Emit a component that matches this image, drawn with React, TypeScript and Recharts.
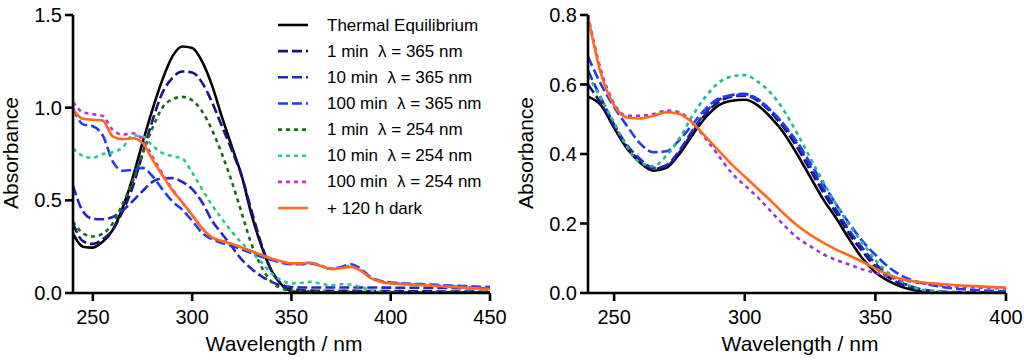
import React from 'react';
import { LineChart, Line, XAxis, YAxis, Legend } from 'recharts';

const FONT = '"Liberation Sans", Arial, Helvetica, sans-serif';

// ---------- Left panel data ----------
const LEFT_WAVELENGTH = [240, 245, 250, 255, 260, 265, 270, 275, 280, 285, 290, 295, 300, 305, 310, 315, 320, 325, 330, 335, 340, 345, 350, 355, 360, 365, 370, 375, 380, 385, 390, 395, 400, 405, 410, 415, 420, 425, 430, 435, 440, 445, 450];
const LEFT_THERMAL = [0.32, 0.25, 0.245, 0.277, 0.34, 0.46, 0.62, 0.81, 0.99, 1.15, 1.275, 1.33, 1.322, 1.25, 1.12, 0.95, 0.79, 0.63, 0.42, 0.25, 0.12, 0.045, 0.01, 0.003, 0.002, 0.002, 0.002, 0.002, 0.002, 0.002, 0.002, 0.002, 0.002, 0.002, 0.002, 0.002, 0.002, 0.002, 0.002, 0.002, 0.002, 0.002, 0.002];
const LEFT_1MIN_365 = [0.375, 0.28, 0.265, 0.29, 0.34, 0.44, 0.57, 0.75, 0.93, 1.08, 1.16, 1.195, 1.19, 1.135, 1.03, 0.9, 0.77, 0.63, 0.44, 0.26, 0.12, 0.05, 0.02, 0.015, 0.013, 0.012, 0.012, 0.012, 0.012, 0.011, 0.01, 0.01, 0.01, 0.01, 0.009, 0.009, 0.009, 0.008, 0.008, 0.008, 0.008, 0.007, 0.007];
const LEFT_10MIN_365 = [0.58, 0.44, 0.4, 0.398, 0.41, 0.445, 0.495, 0.55, 0.6, 0.618, 0.62, 0.6, 0.56, 0.49, 0.39, 0.32, 0.25, 0.18, 0.13, 0.09, 0.06, 0.04, 0.032, 0.03, 0.03, 0.03, 0.03, 0.03, 0.03, 0.03, 0.03, 0.029, 0.029, 0.028, 0.028, 0.028, 0.027, 0.027, 0.027, 0.026, 0.026, 0.025, 0.025];
const LEFT_100MIN_365 = [1.0, 0.91, 0.9, 0.85, 0.71, 0.66, 0.665, 0.675, 0.63, 0.56, 0.495, 0.45, 0.39, 0.325, 0.29, 0.27, 0.255, 0.235, 0.215, 0.195, 0.178, 0.163, 0.155, 0.155, 0.16, 0.145, 0.13, 0.14, 0.155, 0.13, 0.085, 0.065, 0.057, 0.053, 0.05, 0.048, 0.046, 0.043, 0.04, 0.038, 0.036, 0.034, 0.032];
const LEFT_1MIN_254 = [0.385, 0.322, 0.305, 0.32, 0.375, 0.48, 0.6, 0.75, 0.89, 1.0, 1.045, 1.058, 1.04, 0.98, 0.88, 0.75, 0.6, 0.43, 0.26, 0.14, 0.06, 0.025, 0.012, 0.01, 0.008, 0.008, 0.007, 0.007, 0.007, 0.006, 0.006, 0.005, 0.005, 0.004, 0.004, 0.004, 0.003, 0.003, 0.003, 0.003, 0.002, 0.002, 0.002];
const LEFT_10MIN_254 = [0.78, 0.74, 0.73, 0.75, 0.76, 0.785, 0.85, 0.845, 0.795, 0.755, 0.738, 0.725, 0.65, 0.56, 0.475, 0.4, 0.33, 0.27, 0.22, 0.165, 0.105, 0.07, 0.052, 0.055, 0.06, 0.05, 0.042, 0.048, 0.045, 0.032, 0.015, 0.005, 0.002, 0, 0, 0, 0, 0, 0, 0, 0, 0, 0];
const LEFT_100MIN_254 = [1.03, 0.975, 0.965, 0.955, 0.88, 0.855, 0.862, 0.83, 0.735, 0.645, 0.56, 0.49, 0.42, 0.35, 0.3, 0.28, 0.265, 0.245, 0.225, 0.205, 0.185, 0.17, 0.16, 0.16, 0.163, 0.147, 0.132, 0.137, 0.145, 0.122, 0.082, 0.062, 0.054, 0.05, 0.047, 0.045, 0.042, 0.039, 0.036, 0.033, 0.03, 0.027, 0.024];
const LEFT_DARK = [0.99, 0.94, 0.935, 0.93, 0.845, 0.83, 0.835, 0.81, 0.72, 0.635, 0.555, 0.49, 0.42, 0.35, 0.3, 0.28, 0.265, 0.245, 0.225, 0.205, 0.185, 0.17, 0.16, 0.16, 0.163, 0.145, 0.13, 0.135, 0.14, 0.12, 0.08, 0.06, 0.052, 0.048, 0.045, 0.043, 0.04, 0.036, 0.033, 0.03, 0.027, 0.024, 0.02];
const LEFT_XTICKS = [250, 300, 350, 400, 450];
const LEFT_YTICKS = [0, 0.5, 1.0, 1.5];

// ---------- Right panel data ----------
const RIGHT_WAVELENGTH = [240, 245, 250, 255, 260, 265, 270, 275, 280, 285, 290, 295, 300, 305, 310, 315, 320, 325, 330, 335, 340, 345, 350, 355, 360, 365, 370, 375, 380, 385, 390, 395, 400];
const RIGHT_THERMAL = [0.565, 0.54, 0.475, 0.415, 0.375, 0.352, 0.36, 0.4, 0.455, 0.505, 0.54, 0.553, 0.556, 0.54, 0.505, 0.46, 0.4, 0.335, 0.27, 0.215, 0.155, 0.1, 0.06, 0.035, 0.018, 0.008, 0.002, 0, 0, 0, 0, 0, 0];
const RIGHT_1MIN_365 = [0.6, 0.545, 0.48, 0.42, 0.38, 0.357, 0.365, 0.405, 0.462, 0.515, 0.55, 0.565, 0.568, 0.553, 0.52, 0.475, 0.42, 0.355, 0.29, 0.23, 0.17, 0.12, 0.075, 0.045, 0.025, 0.012, 0.005, 0.002, 0, 0, 0, 0, 0];
const RIGHT_10MIN_365 = [0.64, 0.56, 0.485, 0.425, 0.385, 0.36, 0.368, 0.41, 0.468, 0.52, 0.555, 0.57, 0.573, 0.558, 0.525, 0.483, 0.43, 0.365, 0.3, 0.24, 0.18, 0.13, 0.085, 0.052, 0.03, 0.016, 0.008, 0.004, 0.003, 0.002, 0.002, 0.002, 0.002];
const RIGHT_100MIN_365 = [0.68, 0.6, 0.535, 0.48, 0.43, 0.405, 0.408, 0.44, 0.485, 0.53, 0.56, 0.568, 0.571, 0.557, 0.525, 0.485, 0.435, 0.375, 0.315, 0.255, 0.2, 0.15, 0.11, 0.075, 0.05, 0.035, 0.025, 0.018, 0.013, 0.01, 0.008, 0.006, 0.005];
const RIGHT_10MIN_254 = [0.625, 0.56, 0.49, 0.42, 0.375, 0.365, 0.395, 0.445, 0.51, 0.565, 0.605, 0.623, 0.627, 0.608, 0.575, 0.525, 0.46, 0.39, 0.32, 0.255, 0.195, 0.145, 0.095, 0.058, 0.033, 0.016, 0.006, 0.002, 0, 0, 0, 0, 0];
const RIGHT_100MIN_254 = [0.8, 0.64, 0.545, 0.51, 0.51, 0.515, 0.525, 0.52, 0.49, 0.445, 0.395, 0.345, 0.31, 0.275, 0.235, 0.195, 0.16, 0.135, 0.112, 0.095, 0.082, 0.068, 0.058, 0.048, 0.038, 0.031, 0.026, 0.022, 0.019, 0.017, 0.015, 0.014, 0.013];
const RIGHT_DARK = [0.795, 0.63, 0.54, 0.505, 0.502, 0.51, 0.52, 0.515, 0.49, 0.45, 0.41, 0.37, 0.335, 0.3, 0.265, 0.228, 0.195, 0.168, 0.145, 0.125, 0.108, 0.09, 0.07, 0.053, 0.04, 0.033, 0.029, 0.026, 0.023, 0.021, 0.019, 0.017, 0.016];
const RIGHT_XTICKS = [250, 300, 350, 400];
const RIGHT_YTICKS = [0, 0.2, 0.4, 0.6, 0.8];

// ---------- Styles ----------
const DASH = '10 4';
const DOT = '4 4';

type Series = { key: string; name: string; color: string; dash?: string; values: number[] };

const LEFT_SERIES: Series[] = [
  { key: 'thermal', name: 'Thermal Equilibrium', color: '#000000', values: LEFT_THERMAL },
  { key: 'm1_365', name: '1 min  λ = 365 nm', color: '#15157a', dash: DASH, values: LEFT_1MIN_365 },
  { key: 'm10_365', name: '10 min  λ = 365 nm', color: '#2626c4', dash: DASH, values: LEFT_10MIN_365 },
  { key: 'm100_365', name: '100 min  λ = 365 nm', color: '#1f3cf5', dash: DASH, values: LEFT_100MIN_365 },
  { key: 'm1_254', name: '1 min  λ = 254 nm', color: '#1a6a1a', dash: DOT, values: LEFT_1MIN_254 },
  { key: 'm10_254', name: '10 min  λ = 254 nm', color: '#2cc48f', dash: DOT, values: LEFT_10MIN_254 },
  { key: 'm100_254', name: '100 min  λ = 254 nm', color: '#c833c8', dash: DOT, values: LEFT_100MIN_254 },
  { key: 'dark', name: '+ 120 h dark', color: '#ff6a1f', values: LEFT_DARK },
];

const RIGHT_SERIES: Series[] = [
  { key: 'thermal', name: 'Thermal Equilibrium', color: '#000000', values: RIGHT_THERMAL },
  { key: 'm1_365', name: '1 min λ = 365 nm', color: '#15157a', dash: DASH, values: RIGHT_1MIN_365 },
  { key: 'm10_365', name: '10 min λ = 365 nm', color: '#2626c4', dash: DASH, values: RIGHT_10MIN_365 },
  { key: 'm100_365', name: '100 min λ = 365 nm', color: '#1f3cf5', dash: DASH, values: RIGHT_100MIN_365 },
  { key: 'm10_254', name: '10 min λ = 254 nm', color: '#22bb85', dash: DOT, values: RIGHT_10MIN_254 },
  { key: 'm100_254', name: '100 min λ = 254 nm', color: '#a033e0', dash: DOT, values: RIGHT_100MIN_254 },
  { key: 'dark', name: '+ 120 h dark', color: '#ff6a1f', values: RIGHT_DARK },
];

function buildRows(w: number[], series: Series[]) {
  return w.map((x, i) => {
    const row: Record<string, number> = { w: x };
    series.forEach((s) => {
      row[s.key] = s.values[i];
    });
    return row;
  });
}

const LEFT_ROWS = buildRows(LEFT_WAVELENGTH, LEFT_SERIES);
const RIGHT_ROWS = buildRows(RIGHT_WAVELENGTH, RIGHT_SERIES);

const AXIS_LINE = { stroke: '#000', strokeWidth: 2.6 };
const TICK_STYLE = { fill: '#000', fontSize: 20, fontFamily: FONT };

function Title(props: { x: number; y: number; text: string; rotate?: boolean }) {
  const { x, y, text, rotate } = props;
  return (
    <text
      x={x}
      y={y}
      textAnchor="middle"
      fill="#000"
      fontSize={21}
      fontFamily={FONT}
      transform={rotate ? `rotate(-90 ${x} ${y})` : undefined}
    >
      {text}
    </text>
  );
}

function LegendBox() {
  return (
    <svg width={240} height={215} style={{ display: 'block' }}>
      {LEFT_SERIES.map((s, i) => {
        const cy = 15 + i * 26.15;
        return (
          <g key={s.key}>
            <line x1={8} x2={38} y1={cy} y2={cy} stroke={s.color} strokeWidth={2.6} strokeDasharray={s.dash} />
            <text x={57} y={cy} dominantBaseline="central" fontSize={17} fontFamily={FONT} fill="#000" style={{ whiteSpace: 'pre' }}>
              {s.name}
            </text>
          </g>
        );
      })}
    </svg>
  );
}

function Panel(props: {
  rows: Record<string, number>[];
  series: Series[];
  width: number;
  right: number;
  yWidth: number;
  xDomain: [number, number];
  xTicks: number[];
  yDomain: [number, number];
  yTicks: number[];
  yTitleX: number;
  xTitleX: number;
  legend?: boolean;
}) {
  const p = props;
  return (
    <LineChart width={p.width} height={364} data={p.rows} margin={{ top: 15, right: p.right, bottom: 0, left: 0 }}>
      <XAxis
        dataKey="w"
        type="number"
        domain={p.xDomain}
        ticks={p.xTicks}
        allowDataOverflow
        height={71}
        tickSize={8}
        tickMargin={9}
        axisLine={AXIS_LINE}
        tickLine={AXIS_LINE}
        tick={TICK_STYLE}
        label={{ content: () => <Title x={p.xTitleX} y={351} text="Wavelength / nm" /> }}
      />
      <YAxis
        type="number"
        domain={p.yDomain}
        ticks={p.yTicks}
        allowDataOverflow
        width={p.yWidth}
        tickSize={8}
        tickMargin={3}
        axisLine={AXIS_LINE}
        tickLine={AXIS_LINE}
        tick={TICK_STYLE}
        tickFormatter={(v: number) => v.toFixed(1)}
        label={{ content: () => <Title x={p.yTitleX} y={153} text="Absorbance" rotate /> }}
      />
      {p.legend ? (
        <Legend
          layout="vertical"
          verticalAlign="middle"
          align="center"
          wrapperStyle={{ left: 270, top: 10, width: 240, height: 215 }}
          content={() => <LegendBox />}
        />
      ) : null}
      {p.series.map((s) => (
        <Line
          key={s.key}
          dataKey={s.key}
          name={s.name}
          type="monotone"
          stroke={s.color}
          strokeWidth={2.6}
          strokeDasharray={s.dash}
          dot={false}
          activeDot={false}
          isAnimationActive={false}
        />
      ))}
    </LineChart>
  );
}

export default function App() {
  return (
    <div style={{ position: 'absolute', left: 0, top: 0, width: 1024, height: 364, background: '#fff' }}>
      <div style={{ position: 'absolute', left: 0, top: 0 }}>
        <Panel
          rows={LEFT_ROWS}
          series={LEFT_SERIES}
          width={510}
          right={20}
          yWidth={73}
          xDomain={[240, 450]}
          xTicks={LEFT_XTICKS}
          yDomain={[0, 1.5]}
          yTicks={LEFT_YTICKS}
          yTitleX={18}
          xTitleX={284}
          legend
        />
      </div>
      <div style={{ position: 'absolute', left: 510, top: 0 }}>
        <Panel
          rows={RIGHT_ROWS}
          series={RIGHT_SERIES}
          width={514}
          right={18}
          yWidth={78}
          xDomain={[240, 400]}
          xTicks={RIGHT_XTICKS}
          yDomain={[0, 0.8]}
          yTicks={RIGHT_YTICKS}
          yTitleX={23}
          xTitleX={290}
        />
      </div>
    </div>
  );
}
